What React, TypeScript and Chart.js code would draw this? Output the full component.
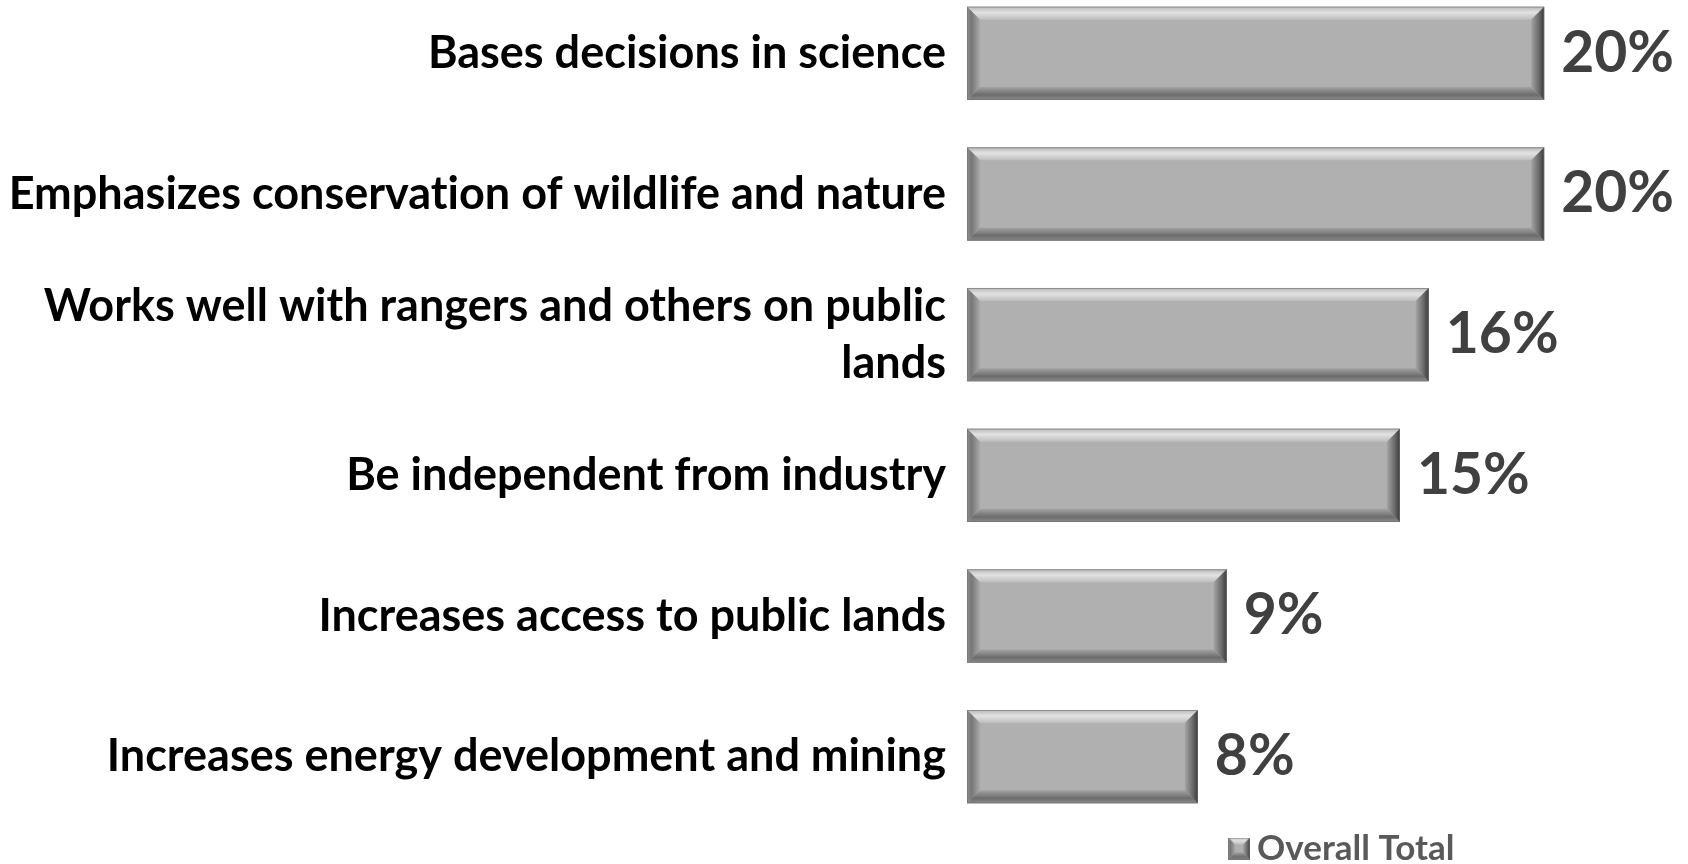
import React, { useEffect, useRef } from "react";
import { Chart, registerables } from "chart.js";

Chart.register(...registerables);

// ---- data ----
const categories: (string | string[])[] = [
  "Bases decisions in science",
  "Emphasizes conservation of wildlife and nature",
  ["Works well with rangers and others on public", "lands"],
  "Be independent from industry",
  "Increases access to public lands",
  "Increases energy development and mining",
];
const values = [20, 20, 16, 15, 9, 8];
const seriesName = "Overall Total";
const xMin = 0;
const xMax = 26.3;

// ---- layout ----
const W = 1726;
const H = 893;
const TOP = -17;
const FONT = "Lato";

function poly(ctx: CanvasRenderingContext2D, pts: number[][], fill: any) {
  ctx.beginPath();
  ctx.moveTo(pts[0][0], pts[0][1]);
  for (let i = 1; i < pts.length; i++) ctx.lineTo(pts[i][0], pts[i][1]);
  ctx.closePath();
  ctx.fillStyle = fill;
  ctx.fill();
}

function drawBevel(ctx: CanvasRenderingContext2D, l: number, t: number, r: number, b: number, s: number) {
  ctx.save();
  let g = ctx.createLinearGradient(0, t, 0, t + s);
  g.addColorStop(0, "#b8b8b8");
  g.addColorStop(0.45, "#e2e2e2");
  g.addColorStop(1, "#bdbdbd");
  poly(ctx, [[l, t], [r, t], [r - s, t + s], [l + s, t + s]], g);
  g = ctx.createLinearGradient(0, b - s, 0, b);
  g.addColorStop(0, "#a2a2a2");
  g.addColorStop(0.6, "#6c6c6c");
  g.addColorStop(1, "#8a8a8a");
  poly(ctx, [[l, b], [r, b], [r - s, b - s], [l + s, b - s]], g);
  g = ctx.createLinearGradient(l, 0, l + s, 0);
  g.addColorStop(0, "#8e8e8e");
  g.addColorStop(0.35, "#777777");
  g.addColorStop(1, "#a9a9a9");
  poly(ctx, [[l, t], [l + s, t + s], [l + s, b - s], [l, b]], g);
  g = ctx.createLinearGradient(r - s, 0, r, 0);
  g.addColorStop(0, "#a4a4a4");
  g.addColorStop(0.6, "#6a6a6a");
  g.addColorStop(1, "#3a3a3a");
  poly(ctx, [[r, t], [r - s, t + s], [r - s, b - s], [r, b]], g);
  ctx.strokeStyle = "rgba(110,110,110,0.6)";
  ctx.lineWidth = 1;
  ctx.strokeRect(l + 0.5, t + 0.5, r - l - 1, b - t - 1);
  ctx.restore();
}

const noLigaturePlugin = {
  id: "noLigatures",
  beforeDraw(chart: any) {
    try {
      (chart.ctx as any).letterSpacing = "0.01px";
    } catch (e) {}
  },
};

const bevelPlugin = {
  id: "bevelBars",
  afterDatasetsDraw(chart: any) {
    const ctx = chart.ctx as CanvasRenderingContext2D;
    const meta = chart.getDatasetMeta(0);
    meta.data.forEach((el: any, i: number) => {
      const p = el.getProps(["x", "y", "base", "height"], true);
      const l = Math.min(p.base, p.x);
      const r = Math.max(p.base, p.x);
      const t = p.y - p.height / 2;
      const b = p.y + p.height / 2;
      drawBevel(ctx, l, t, r, b, 13);
      ctx.save();
      ctx.fillStyle = "#404040";
      ctx.font = `bold 57px ${FONT}`;
      ctx.textAlign = "left";
      ctx.textBaseline = "middle";
      ctx.fillText(`${values[i]}%`, r + 17, p.y);
      ctx.restore();
    });
  },
};

function makeLegendIcon(): HTMLCanvasElement {
  const c = document.createElement("canvas");
  c.width = 22;
  c.height = 22;
  const ctx = c.getContext("2d")!;
  ctx.fillStyle = "#b0b0b0";
  ctx.fillRect(0, 0, 22, 22);
  drawBevel(ctx, 0, 0, 22, 22, 7);
  return c;
}

export default function App() {
  const ref = useRef<HTMLCanvasElement | null>(null);

  useEffect(() => {
    if (!ref.current) return;
    const icon = makeLegendIcon();
    const chart = new Chart(ref.current, {
      type: "bar",
      data: {
        labels: categories,
        datasets: [
          {
            label: seriesName,
            data: values,
            backgroundColor: "#b0b0b0",
            borderWidth: 0,
            barPercentage: 0.664,
            categoryPercentage: 1,
          },
        ],
      },
      options: {
        indexAxis: "y",
        responsive: false,
        animation: false,
        events: [],
        layout: { padding: 0 },
        scales: {
          x: {
            display: false,
            min: xMin,
            max: xMax,
          },
          y: {
            grid: { display: false, drawTicks: false },
            border: { display: false },
            afterFit: (scale: any) => {
              scale.width = 967;
              scale.paddingTop = 0;
              scale.paddingBottom = 0;
            },
            ticks: {
              padding: 21,
              color: "#000000",
              font: { family: FONT, size: 45, weight: "bold", lineHeight: 57 / 45 },
            },
          },
        },
        plugins: {
          tooltip: { enabled: false },
          legend: {
            position: "bottom",
            fullSize: false,
            align: "center",
            labels: {
              usePointStyle: true,
              pointStyle: icon,
              boxWidth: 1,
              boxHeight: 22,
              padding: 4,
              color: "#595959",
              font: { family: FONT, size: 35, weight: "bold" },
            },
          },
        },
      },
      plugins: [noLigaturePlugin, bevelPlugin],
    } as any);
    return () => chart.destroy();
  }, []);

  return (
    <div
      style={{
        position: "fixed",
        left: 0,
        top: 0,
        width: 1688,
        height: 864,
        overflow: "hidden",
        background: "#ffffff",
      }}
    >
      <canvas
        ref={ref}
        width={W}
        height={H}
        style={{ position: "absolute", left: 0, top: TOP, width: W, height: H }}
      />
    </div>
  );
}
